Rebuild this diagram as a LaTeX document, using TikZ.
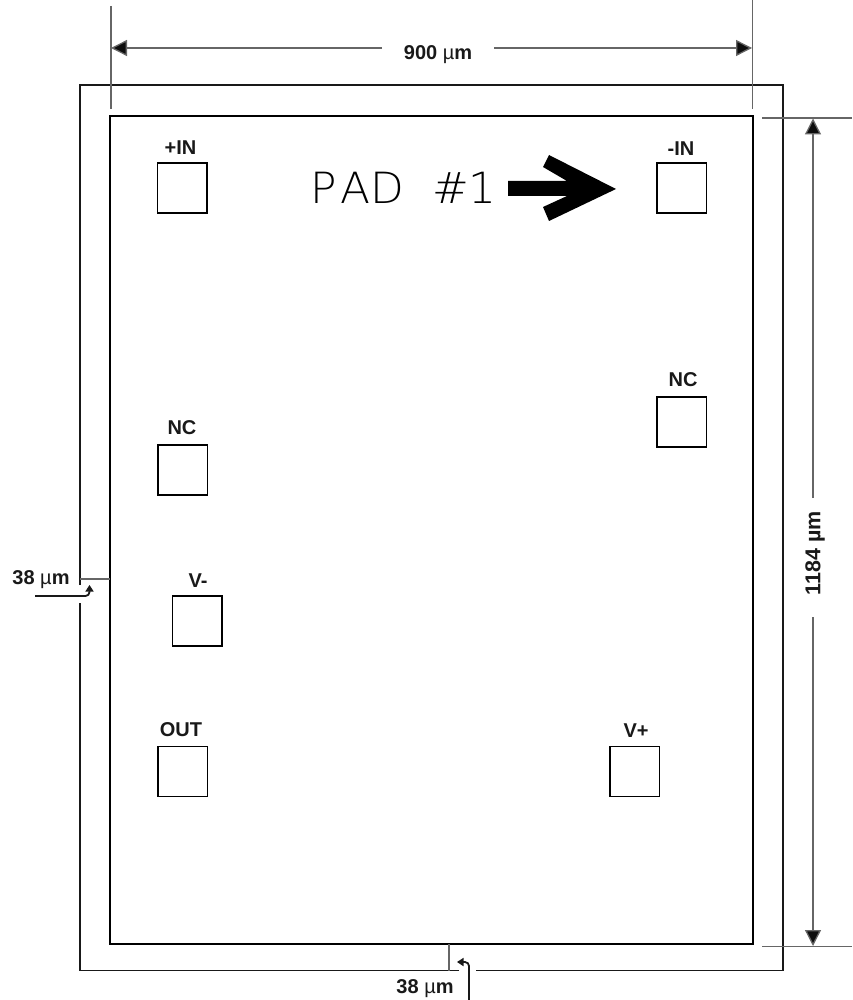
\documentclass[tikz,border=0pt]{standalone}
\usepackage{fontspec}
\setmainfont{Liberation Sans}
\newfontfamily\padfont[FakeStretch=1.02]{DejaVu Sans ExtraLight}
\usetikzlibrary{arrows.meta}
\tikzset{
 x=1pt,y=-1pt,
 die/.style={draw=black,line width=1.8pt},
 outerbox/.style={draw=black!90,line width=1.2pt},
 pad/.style={draw=black,line width=1.3pt,minimum width=49.5pt,minimum height=50pt,inner sep=0pt,outer sep=0pt,anchor=north west},
 lab/.style={font=\bfseries\fontsize{20}{22}\selectfont,inner sep=0pt,text=black!90},
 dim/.style={draw=black!60,line width=1.3pt},
 tick/.style={draw=black!60,line width=1.3pt},
 tri/.style={-{Triangle[length=16pt,width=16pt,fill=black!95]},draw=black!60,line width=1.3pt},
 lead/.style={draw=black!90,line width=1.8pt,-{Triangle[length=6.5pt,width=8pt]},rounded corners=4pt},
}
\newcommand{\um}{{\fontseries{m}\selectfont µ}m}
\newcommand{\cell}[1]{\makebox[31.6pt][c]{#1}}
\begin{document}
\begin{tikzpicture}
\useasboundingbox (0,0) rectangle (852,1000);
% coordinates
\coordinate (oNW) at (80,85);
\coordinate (oNE) at (783,85);
\coordinate (oSE) at (783,970.5);
\coordinate (oSW) at (80,970.5);
\coordinate (oLgapA) at (80,585);
\coordinate (oLgapB) at (80,603);
\coordinate (oBgapA) at (459,970.5);
\coordinate (oBgapB) at (476,970.5);
% outer outline
\draw[outerbox] (oLgapA) -- (oNW) -- (oNE) -- (oSE) -- (oBgapB);
\draw[outerbox] (oBgapA) -- (oSW) -- (oLgapB);
% extension lines
\coordinate (e1a) at (111,6); \coordinate (e1b) at (111,109);
\coordinate (e2a) at (752.5,0); \coordinate (e2b) at (752.5,109);
\coordinate (e3a) at (762,118); \coordinate (e3b) at (852,118);
\coordinate (e4a) at (762,946.5); \coordinate (e4b) at (852,946.5);
\draw[dim] (e1a)--(e1b);
\draw[dim] (e2a)--(e2b);
\draw[dim] (e3a)--(e3b);
\draw[dim] (e4a)--(e4b);
% die
\node[die,minimum width=643pt,minimum height=828pt,inner sep=0pt,outer sep=0pt,anchor=north west] (chip) at (110,116) {};
% dimension labels
\node[lab] (w) at (438,55) {900 \um};
\node[lab,rotate=90,font=\bfseries\fontsize{21.5}{22}\selectfont] (h) at (815,553) {1184 µm};
\coordinate (wL) at (111,48); \coordinate (wR) at (752,48);
\coordinate (hT) at (813,118.5); \coordinate (hB) at (813,946);
\draw[tri] (382,48) -- (wL);
\draw[tri] (494,48) -- (wR);
\draw[tri] (813,498) -- (hT);
\draw[tri] (813,617) -- (hB);
% pads
\node[pad] (p1) at (157.5,163) {};
\node[pad] (p2) at (657,163) {};
\node[pad] (p3) at (657,397) {};
\node[pad] (p4) at (158,445) {};
\node[pad] (p5) at (172.5,596) {};
\node[pad] (p6) at (158,746.5) {};
\node[pad] (p7) at (610,746.5) {};
\node[lab] at (180.5,148) {+IN};
\node[lab] at (681,149) {-IN};
\node[lab] at (683,380) {NC};
\node[lab] at (182,428) {NC};
\node[lab] at (198,581) {V-};
\node[lab] at (181,730) {OUT};
\node[lab] at (636,731) {V+};
% pad 1 marker
\node[anchor=base west,inner sep=0pt,font=\padfont\fontsize{43}{43}\selectfont,text=black] (padlabel) at (308,204) {\cell{P}\cell{A}\cell{D}\cell{~}\cell{\#}\cell{1}};
\fill[black] (508,181) -- (567,181) -- (543,167) -- (549,155) -- (616,189) -- (549,221) -- (543,207) -- (567,196) -- (508,196) -- cycle;
% 38 um left
\node[lab] (l38) at (41,580) {38 \um};
\coordinate (lt1) at (80,579); \coordinate (lt2) at (110,579);
\draw[tick] (lt1)--(lt2);
\coordinate (lA) at (35,596) ; \coordinate (lB) at (89.5,596); \coordinate (lC) at (89.5,585);
\draw[lead] (lA) -- (lB) -- (lC);
% 38 um bottom
\node[lab] (b38) at (425,989) {38 \um};
\coordinate (bt1) at (449,944); \coordinate (bt2) at (449,971);
\draw[tick] (bt1)--(bt2);
\coordinate (bA) at (469,1000); \coordinate (bB) at (469,962); \coordinate (bC) at (457,962);
\draw[lead] (bA) -- (bB) -- (bC);
\end{tikzpicture}
\end{document}
